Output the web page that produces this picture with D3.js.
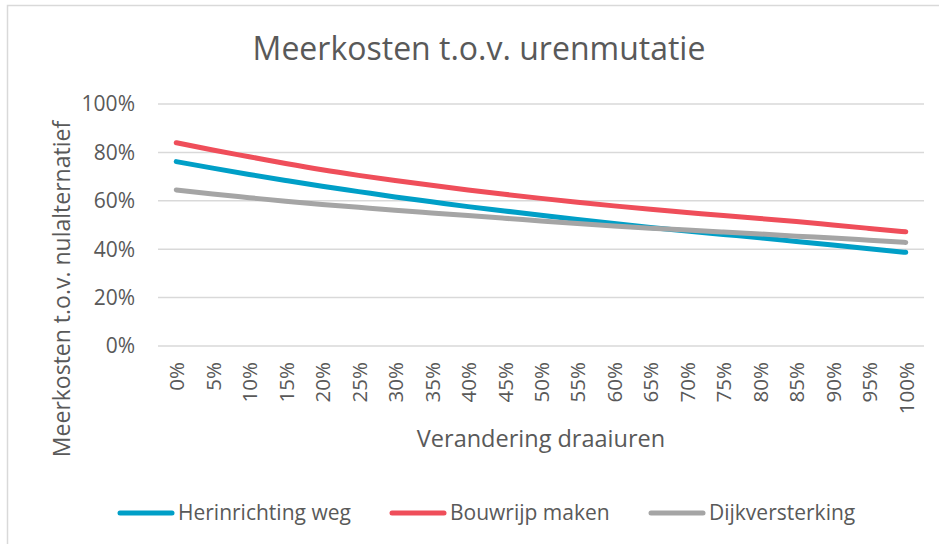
<!DOCTYPE html>
<html>
<head>
<meta charset="utf-8">
<script src="https://cdn.jsdelivr.net/npm/d3@7"></script>
<style>
  body { margin: 0; background: #fff; }
  text { font-family: "Open Sans", "Noto Sans", sans-serif; fill: #595959; }
</style>
</head>
<body>
<div id="chart"></div>
<script>
// categories (x) and series values (fractions of nulalternatief)
var categories = ["0%","5%","10%","15%","20%","25%","30%","35%","40%","45%","50%",
                  "55%","60%","65%","70%","75%","80%","85%","90%","95%","100%"];
var herinrichting = [0.762,0.735,0.709,0.684,0.660,0.638,0.616,0.596,0.576,0.558,0.540,
                     0.523,0.506,0.490,0.475,0.461,0.447,0.432,0.417,0.402,0.387];
var bouwrijp = [0.840,0.810,0.782,0.754,0.728,0.705,0.684,0.664,0.645,0.627,0.610,
                0.594,0.579,0.565,0.552,0.539,0.527,0.514,0.500,0.486,0.472];
var dijk = [0.645,0.628,0.613,0.598,0.585,0.573,0.561,0.550,0.539,0.528,0.517,
            0.506,0.496,0.487,0.479,0.471,0.463,0.454,0.446,0.437,0.428];
var yTicks = [0, 0.2, 0.4, 0.6, 0.8, 1.0];
var seriesNames = ["Herinrichting weg", "Bouwrijp maken", "Dijkversterking"];
var seriesColors = ["#009fc7", "#ef4e5a", "#a5a5a5"];

function init() {
    var w = 939, h = 544;
    var svg = d3.select("#chart").append("svg")
        .attr("width", w).attr("height", h);

    // chart frame
    svg.append("rect")
        .attr("x", 7.5).attr("y", 5.5)
        .attr("width", 940).attr("height", 550)
        .attr("fill", "none").attr("stroke", "#d9d9d9").attr("stroke-width", 1.5);

    var left = 158, right = 924, top = 104, bottom = 346;

    var x = d3.scaleBand().domain(categories).range([left, right]);
    var y = d3.scaleLinear().domain([0, 1]).range([bottom, top]);

    // gridlines
    svg.selectAll("line.grid")
        .data(yTicks).enter().append("line")
        .attr("class", "grid")
        .attr("x1", left).attr("x2", right)
        .attr("y1", d => y(d)).attr("y2", d => y(d))
        .attr("stroke", "#d9d9d9").attr("stroke-width", 1.5);

    // y tick labels
    svg.selectAll("text.ytick")
        .data(yTicks).enter().append("text")
        .attr("class", "ytick")
        .attr("x", 135).attr("y", d => y(d))
        .attr("dy", "0.35em")
        .attr("text-anchor", "end")
        .style("font-size", "21px")
        .text(d => d3.format(".0%")(d));

    // x tick labels (rotated)
    svg.selectAll("text.xtick")
        .data(categories).enter().append("text")
        .attr("class", "xtick")
        .attr("transform", d => "translate(" + (x(d) + x.bandwidth() / 2 + 8) + "," + 362 + ") rotate(-90)")
        .attr("text-anchor", "end")
        .style("font-size", "20.5px")
        .text(d => d);

    // lines
    var allSeries = [herinrichting, bouwrijp, dijk];
    var line = d3.line()
        .x((d, i) => x(categories[i]) + x.bandwidth() / 2)
        .y(d => y(d))
        .curve(d3.curveMonotoneX);

    svg.selectAll("path.series")
        .data(allSeries).enter().append("path")
        .attr("class", "series")
        .attr("d", line)
        .attr("fill", "none")
        .attr("stroke", (d, i) => seriesColors[i])
        .attr("stroke-width", 5)
        .attr("stroke-linecap", "round")
        .attr("stroke-linejoin", "round");

    // title
    svg.append("text")
        .attr("x", 479).attr("y", 60)
        .attr("text-anchor", "middle")
        .style("font-size", "32px")
        .text("Meerkosten t.o.v. urenmutatie");

    // axis titles
    svg.append("text")
        .attr("x", 541).attr("y", 447)
        .attr("text-anchor", "middle")
        .style("font-size", "23.5px")
        .text("Verandering draaiuren");

    svg.append("text")
        .attr("transform", "translate(70,289) rotate(-90)")
        .attr("text-anchor", "middle")
        .style("font-size", "23px")
        .text("Meerkosten t.o.v. nulalternatief");

    // legend
    var legendX = [118, 390, 649];
    var legend = svg.selectAll("g.legend")
        .data(seriesNames).enter().append("g")
        .attr("class", "legend")
        .attr("transform", (d, i) => "translate(" + legendX[i] + ",513)");
    legend.append("line")
        .attr("x1", 2).attr("x2", 54)
        .attr("stroke", (d, i) => seriesColors[i])
        .attr("stroke-width", 5)
        .attr("stroke-linecap", "round");
    legend.append("text")
        .attr("x", 60).attr("dy", "0.35em")
        .style("font-size", "21px")
        .text(d => d);
}

window.onload = init;
</script>
</body>
</html>
